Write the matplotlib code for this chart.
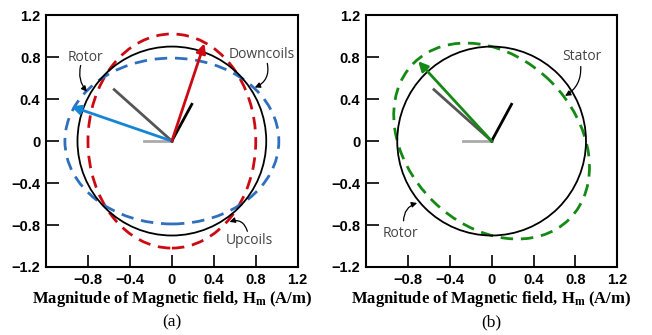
import numpy as np
import matplotlib.pyplot as plt
from matplotlib.patches import Circle, Ellipse

plt.rcParams['mathtext.fontset'] = 'custom'
plt.rcParams['mathtext.rm'] = 'Liberation Serif:bold'
plt.rcParams['mathtext.it'] = 'Liberation Serif:bold'
plt.rcParams['mathtext.bf'] = 'Liberation Serif:bold'

# tick values
ticks = [-1.2, -0.8, -0.4, 0, 0.4, 0.8, 1.2]
xtick_labels = ['', '\u22120.8', '\u22120.4', '0', '0.4', '0.8', '1.2']
ytick_labels = ['\u22121.2', '\u22120.8', '\u22120.4', '0', '0.4', '0.8', '1.2']

# rotor field circle (radius)
rotor_r = 0.90

# (a) upcoils / downcoils ellipses: semi-axes x, y
up_axes = [0.80, 1.02]
down_axes = [1.02, 0.79]
# vectors (x, y)
up_vec = [0.31, 0.93]
down_vec = [-0.96, 0.33]

# (b) stator ellipse: semi-major, semi-minor, angle
stator_axes = [1.05, 0.80]
stator_angle = 135
stator_vec = [-0.70, 0.76]

# phase lines common to both panels
gray_line = [-0.55, 0.49]
black_line = [0.19, 0.35]
light_line = [-0.27, 0.0]

RED = '#cc0a14'
BLUE_D = '#2f6fbd'
BLUE_A = '#1585d6'
GREEN = '#148a14'
TXT = '#444444'

fig = plt.figure(figsize=(6.52, 3.35), dpi=100)
ax1 = fig.add_axes([0.0706, 0.203, 0.386, 0.752])
ax2 = fig.add_axes([0.561, 0.203, 0.386, 0.752])


def setup(ax, tag):
    ax.set_xlim(-1.2, 1.2)
    ax.set_ylim(-1.2, 1.2)
    ax.set_xticks(ticks)
    ax.set_xticklabels(xtick_labels)
    ax.set_yticks(ticks)
    ax.set_yticklabels(ytick_labels)
    ax.tick_params(direction='in', length=9, width=1.2, labelsize=10.5, pad=4)
    for lab in ax.get_xticklabels() + ax.get_yticklabels():
        lab.set_fontweight('bold')
        lab.set_family('Liberation Sans')
    for s in ax.spines.values():
        s.set_linewidth(1.5)
    ax.set_xlabel(r'Magnitude of Magnetic field, H$_\mathrm{m}$ (A/m)',
                  family='Liberation Serif', fontweight='bold', fontsize=12, labelpad=2)
    ax.text(0.5, -0.19, tag, transform=ax.transAxes, ha='center', va='top',
            family='Liberation Serif', fontsize=12.5)
    ax.add_patch(Circle((0, 0), rotor_r, fill=False, color='black', lw=1.3, zorder=3))
    ax.plot([0, light_line[0]], [0, light_line[1]], color='#aaaaaa', lw=2, zorder=4)
    ax.plot([0, gray_line[0]], [0, gray_line[1]], color='#555555', lw=2, zorder=4)
    ax.plot([0, black_line[0]], [0, black_line[1]], color='black', lw=2, zorder=4)


def arrow(ax, vec, color):
    ax.annotate('', xy=(vec[0], vec[1]), xytext=(0, 0),
                arrowprops=dict(arrowstyle='-|>', color=color, lw=2,
                                mutation_scale=14, shrinkA=0, shrinkB=0), zorder=5)


def label(ax, text, xy_text, xy_from, xy_to, rad):
    ax.text(xy_text[0], xy_text[1], text, ha='center', va='center',
            color=TXT, fontsize=10, family='Open Sans')
    ax.annotate('', xy=xy_to, xytext=xy_from,
                arrowprops=dict(arrowstyle='-|>', color='black', lw=0.9,
                                mutation_scale=8, shrinkA=0, shrinkB=0,
                                connectionstyle='arc3,rad=%s' % rad))


# (a)
setup(ax1, '(a)')
ax1.add_patch(Ellipse((0, 0), 2 * up_axes[0], 2 * up_axes[1], fill=False,
                      ec=RED, lw=2, ls=(0, (4.5, 2.8)), zorder=2))
ax1.add_patch(Ellipse((0, 0), 2 * down_axes[0], 2 * down_axes[1], fill=False,
                      ec=BLUE_D, lw=2, ls=(0, (4.5, 2.8)), zorder=2))
arrow(ax1, down_vec, BLUE_A)
arrow(ax1, up_vec, RED)
label(ax1, 'Rotor', (-0.82, 0.80), (-0.87, 0.72), (-0.81, 0.47), 0.25)
label(ax1, 'Downcoils', (0.86, 0.82), (0.91, 0.74), (0.79, 0.51), -0.4)
label(ax1, 'Upcoils', (0.74, -0.95), (0.72, -0.86), (0.55, -0.77), 0.5)

# (b)
setup(ax2, '(b)')
ax2.add_patch(Ellipse((0, 0), 2 * stator_axes[0], 2 * stator_axes[1], angle=stator_angle,
                      fill=False, ec=GREEN, lw=2, ls=(0, (4.5, 2.8)), zorder=2))
arrow(ax2, stator_vec, GREEN)
label(ax2, 'Stator', (0.86, 0.81), (0.85, 0.71), (0.70, 0.43), -0.3)
label(ax2, 'Rotor', (-0.87, -0.88), (-0.84, -0.76), (-0.71, -0.59), -0.35)

plt.savefig('out.png', dpi=100)
